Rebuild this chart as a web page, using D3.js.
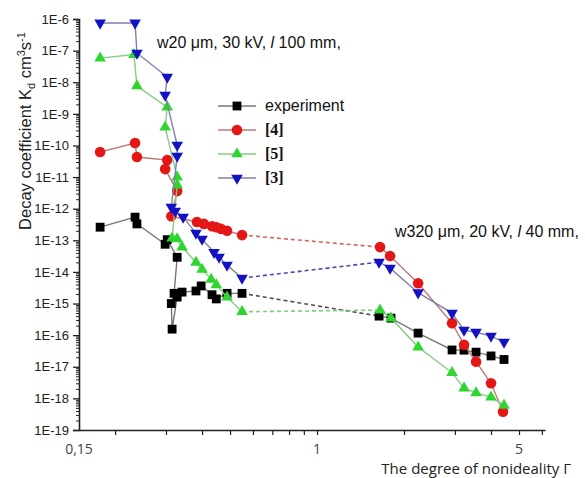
<!DOCTYPE html>
<html><head><meta charset="utf-8">
<script src="https://cdn.jsdelivr.net/npm/d3@7"></script>
<style>body{margin:0;background:#fff}</style>
</head><body><svg id="c" width="585" height="478"></svg>
<script>
// ---- data ----
const seriesNames = ["experiment", "[4]", "[5]", "[3]"];
const expX = [0.1775,0.2345,0.238,0.298,0.303,0.328,0.320,0.313,0.315,0.328,0.341,0.381,0.397,0.433,0.448,0.488,0.550, 1.639,1.803,2.237,2.932,3.226,3.550,4.0,4.437];
const expY = [2.6e-13,5.4e-13,3.3e-13,7.5e-14,1.05e-13,2.9e-14,2.1e-15,1.0e-15,1.55e-16,1.6e-15,2.3e-15,2.5e-15,3.6e-15,1.9e-15,1.4e-15,2.1e-15,2.1e-15, 4.0e-16,3.45e-16,1.16e-16,3.4e-17,3.35e-17,2.9e-17,2.2e-17,1.7e-17];
const ref4X = [0.1775,0.2345,0.238,0.303,0.298,0.328,0.313,0.384,0.406,0.433,0.448,0.465,0.488,0.550, 1.652,1.789,2.237,2.932,3.226,3.550,4.0,4.402];
const ref4Y = [6.2e-11,1.19e-10,4.3e-11,3.45e-11,1.79e-11,3.6e-12,5.8e-13,3.8e-13,3.3e-13,2.8e-13,2.6e-13,2.3e-13,2.0e-13,1.46e-13, 6.1e-14,3.2e-14,4.4e-15,2.4e-16,5.0e-17,1.45e-17,3.0e-18,3.8e-19];
const ref5X = [0.1775,0.2325,0.238,0.303,0.298,0.328,0.328,0.315,0.328,0.341,0.381,0.400,0.430,0.448,0.488,0.550, 1.652,1.803,2.237,2.932,3.226,3.550,4.0,4.437];
const ref5Y = [5.8e-8,7.5e-8,7.6e-9,1.64e-9,3.8e-10,1.0e-11,5.6e-12,1.17e-13,1.1e-13,6.1e-14,2.0e-14,1.2e-14,5.8e-15,3.9e-15,1.6e-15,5.5e-16, 6.2e-16,3.45e-16,4.2e-17,6.5e-18,2.1e-18,1.5e-18,1.1e-18,6.0e-19];
const ref3X = [0.1775,0.2345,0.238,0.303,0.298,0.328,0.328,0.313,0.323,0.344,0.381,0.400,0.440,0.458,0.488,0.550, 1.639,1.789,2.237,2.932,3.226,3.550,4.0,4.437];
const ref3Y = [7.5e-7,7.5e-7,8.4e-8,1.46e-8,3.9e-9,1.03e-10,4.6e-11,1.12e-12,8.4e-13,5.4e-13,1.69e-13,1.09e-13,4.2e-14,2.94e-14,1.64e-14,6.4e-15, 2.04e-14,1.32e-14,2.2e-15,5.0e-16,1.44e-16,1.24e-16,9.3e-17,6.0e-17];
const yTicks = [1e-6,1e-7,1e-8,1e-9,1e-10,1e-11,1e-12,1e-13,1e-14,1e-15,1e-16,1e-17,1e-18,1e-19];
const xTicks = [0.2,0.3,0.4,0.5,0.6,0.7,0.8,0.9,1,2,3,4,5,6];
const xLabels = [[0.15,"0,15"],[1,"1"],[5,"5"]];
const annotations = [["w20 μm, 30 kV, ", "l", " 100 mm,"], ["w320 μm, 20 kV, ", "l", " 40 mm,"]];

// ---- styles ----
const markerColor = ["#000000", "#e41616", "#2fd62f", "#1212c4"];
const lineColor = ["#777777", "#c07878", "#86cc86", "#8080ac"];
const dashColor = ["#505050", "#d06464", "#7ad27a", "#4a4aa8"];
const symTypes = [d3.symbolSquare, d3.symbolCircle, d3.symbolTriangle, d3.symbolTriangle];
const symSizes = [78, 88, 58, 58];
const symRot = [0, 0, 0, 180];

const svg = d3.select("#c");
const x = d3.scaleLog().domain([0.15, 6.15]).range([79, 545]);
const y = d3.scaleLog().domain([1e-19, 1e-6]).range([430, 19]);

// y axis
const minors = [];
for (let e = -19; e < -6; e++) for (let m = 2; m <= 9; m++) minors.push(m * Math.pow(10, e));
svg.append("g").attr("transform", "translate(79,0)")
  .call(d3.axisLeft(y).tickValues(minors).tickSize(3).tickFormat(""))
  .call(g => g.select(".domain").remove())
  .selectAll("line").attr("stroke", "#222");
const ya = svg.append("g").attr("transform", "translate(79,0)")
  .call(d3.axisLeft(y).tickValues(yTicks).tickSize(6).tickPadding(4)
    .tickFormat(d => "1E" + Math.round(Math.log10(d))));
ya.select(".domain").attr("stroke", "#222").attr("stroke-width", 1.6);
ya.selectAll("line").attr("stroke", "#222").attr("stroke-width", 1.3);
ya.selectAll("text").attr("font-family", "Liberation Sans, Arial, sans-serif").attr("font-size", 13).attr("fill", "#222");

// x axis
const xa = svg.append("g").attr("transform", "translate(0,430)")
  .call(d3.axisBottom(x).tickValues(xTicks).tickSize(5).tickFormat("").tickSizeOuter(0));
xa.select(".domain").attr("stroke", "#222").attr("stroke-width", 1.6);
xa.selectAll("line").attr("stroke", "#222").attr("stroke-width", 1.2);
svg.append("g").selectAll("text").data(xLabels).join("text")
  .attr("x", d => x(d[0])).attr("y", 454).attr("text-anchor", "middle")
  .attr("font-family", "Open Sans, sans-serif").attr("font-size", 14).attr("fill", "#444")
  .text(d => d[1]);

// titles
svg.append("text").attr("x", 571).attr("y", 474).attr("text-anchor", "end")
  .attr("font-family", "Open Sans, sans-serif").attr("font-size", 15).attr("fill", "#222")
  .text("The degree of nonideality Γ");
const yt = svg.append("text").attr("transform", "translate(31,131) rotate(-90)")
  .attr("text-anchor", "middle").attr("font-family", "Liberation Sans, Arial, sans-serif")
  .attr("font-size", 16.5).attr("fill", "#222");
yt.append("tspan").text("Decay coefficient K");
yt.append("tspan").attr("font-size", 11).attr("dy", 4).text("d");
yt.append("tspan").attr("dy", -4).text(" cm");
yt.append("tspan").attr("font-size", 11).attr("dy", -6).text("3");
yt.append("tspan").attr("dy", 6).text("s");
yt.append("tspan").attr("font-size", 11).attr("dy", -6).text("-1");

// annotations
const annPos = [[157, 48], [395, 237]];
annotations.forEach((a, i) => {
  const t = svg.append("text").attr("x", annPos[i][0]).attr("y", annPos[i][1])
    .attr("font-family", "Liberation Sans, Arial, sans-serif").attr("font-size", 16).attr("fill", "#111");
  t.append("tspan").text(a[0]);
  t.append("tspan").attr("font-style", "italic").text(a[1]);
  t.append("tspan").text(a[2]);
});

// series
const allX = [expX, ref4X, ref5X, ref3X];
const allY = [expY, ref4Y, ref5Y, ref3Y];
const line = d3.line().x(d => x(d.x)).y(d => y(d.y));
allX.forEach((xs, s) => {
  const pts = xs.map((v, i) => ({x: v, y: allY[s][i]}));
  const g1 = pts.filter(p => p.x < 1), g2 = pts.filter(p => p.x > 1);
  const g = svg.append("g");
  [g1, g2].forEach(grp => g.append("path").attr("d", line(grp)).attr("fill", "none")
    .attr("stroke", lineColor[s]).attr("stroke-width", 1.4));
  g.append("path").attr("d", line([g1[g1.length - 1], g2[0]])).attr("fill", "none")
    .attr("stroke", dashColor[s]).attr("stroke-width", 1.6).attr("stroke-dasharray", "4,3");
  g.selectAll(".m").data(pts).join("path")
    .attr("transform", d => `translate(${x(d.x)},${y(d.y)}) rotate(${symRot[s]})`)
    .attr("d", d3.symbol().type(symTypes[s]).size(symSizes[s])())
    .attr("fill", markerColor[s]);
});

// legend
const legY = [106, 130, 154, 178];
const leg = svg.append("g");
seriesNames.forEach((n, s) => {
  leg.append("line").attr("x1", 218).attr("x2", 256).attr("y1", legY[s]).attr("y2", legY[s])
    .attr("stroke", lineColor[s]).attr("stroke-width", 1.4);
  leg.append("path").attr("transform", `translate(237,${legY[s]}) rotate(${symRot[s]})`)
    .attr("d", d3.symbol().type(symTypes[s]).size(symSizes[s])()).attr("fill", markerColor[s]);
  leg.append("text").attr("x", 265).attr("y", legY[s] + 5)
    .attr("font-family", s === 0 ? "Liberation Sans, Arial, sans-serif" : "Liberation Serif, Times New Roman, serif")
    .attr("font-weight", s === 0 ? "normal" : "bold")
    .attr("font-size", 16).attr("fill", "#111").text(n);
});
</script></body></html>
